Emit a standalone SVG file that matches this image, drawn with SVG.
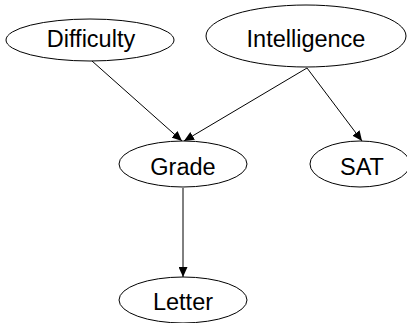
<svg xmlns="http://www.w3.org/2000/svg" width="407" height="323" viewBox="0 0 407 323">
<style>
.n ellipse{fill:#fff;stroke:#000;stroke-width:1}
.n text{font-family:"Liberation Sans",Arial,sans-serif;font-size:23.5px;text-anchor:middle;fill:#000}
.e line{stroke:#000;stroke-width:1}
</style>
<defs>
<marker id="a" viewBox="0 0 10 10" refX="10" refY="5" markerWidth="10" markerHeight="9" markerUnits="userSpaceOnUse" orient="auto" preserveAspectRatio="none">
<path d="M0,0L10,5L0,10z" fill="#000"/>
</marker>
</defs>
<rect width="407" height="323" fill="#fff"/>
<g class="e">
<line x1="92" y1="61" x2="182" y2="141" marker-end="url(#a)"/>
<line x1="307" y1="68" x2="184" y2="141" marker-end="url(#a)"/>
<line x1="307" y1="68" x2="362" y2="141" marker-end="url(#a)"/>
<line x1="183" y1="188" x2="183" y2="277" marker-end="url(#a)"/>
</g>
<g id="difficulty" class="n"><ellipse cx="90" cy="40" rx="84" ry="21"/><text x="91" y="47">Difficulty</text></g>
<g id="intelligence" class="n"><ellipse cx="306" cy="36" rx="100" ry="31"/><text x="306" y="47">Intelligence</text></g>
<g id="grade" class="n"><ellipse cx="183" cy="164" rx="64" ry="23"/><text x="183" y="175">Grade</text></g>
<g id="sat" class="n"><ellipse cx="360" cy="164" rx="50" ry="23"/><text x="362" y="175">SAT</text></g>
<g id="letter" class="n"><ellipse cx="183" cy="300" rx="64" ry="23"/><text x="183" y="310">Letter</text></g>
</svg>
